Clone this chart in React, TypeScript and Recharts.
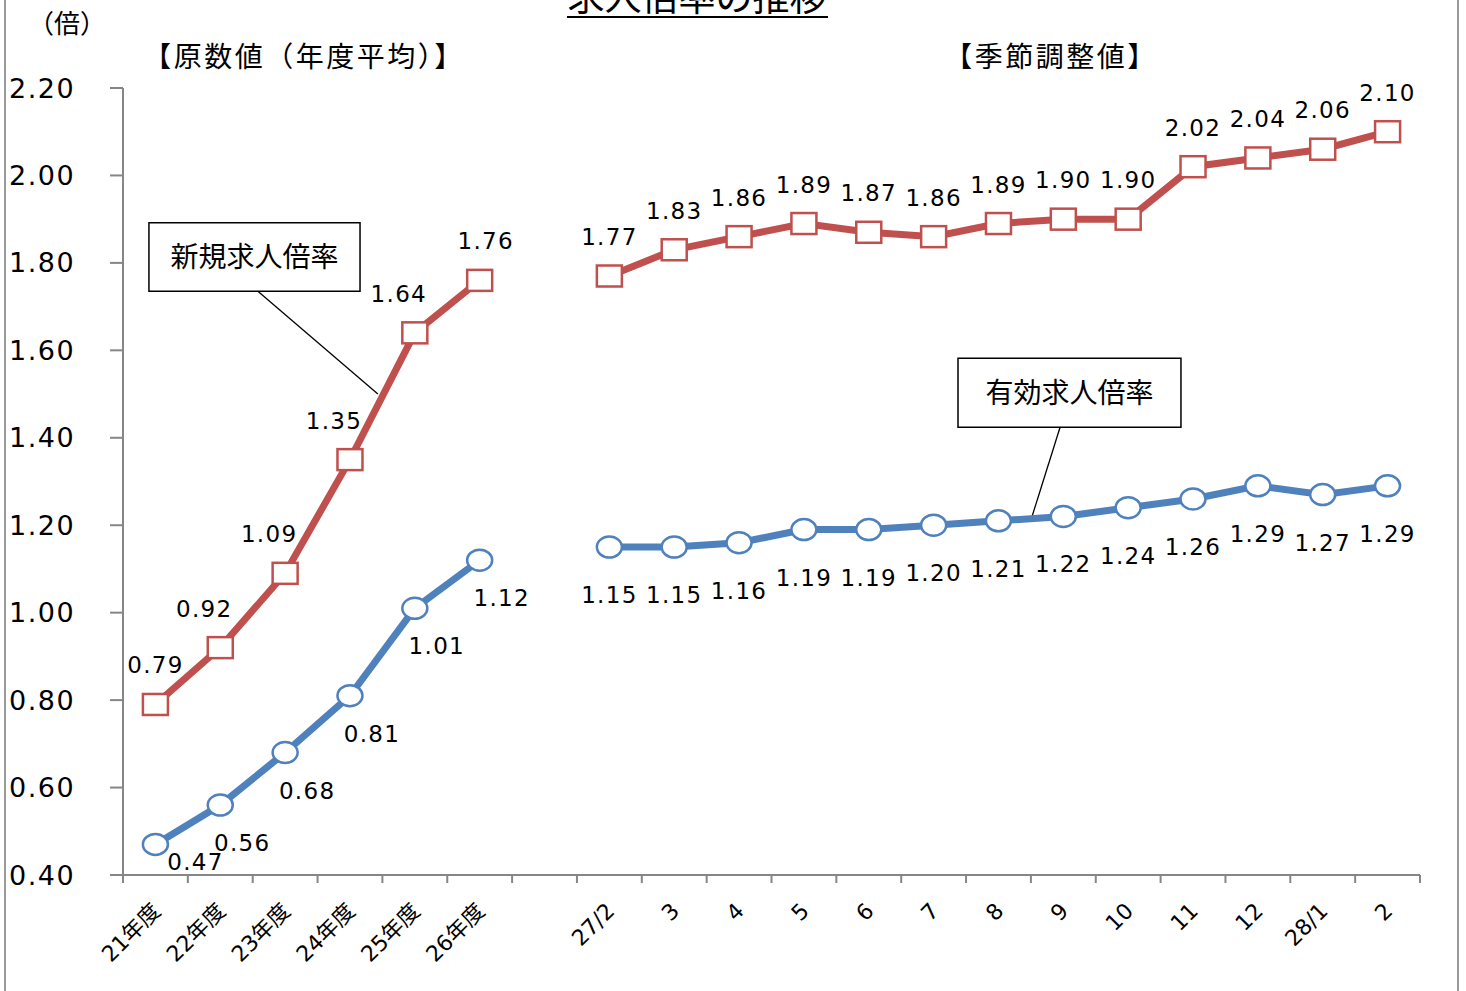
import React from 'react';
import {
  ComposedChart,
  Line,
  XAxis,
  YAxis,
  ReferenceArea,
  ReferenceLine,
  LabelList,
  Label,
} from 'recharts';

// ---- data ----
const categories = [
  '21年度', '22年度', '23年度', '24年度', '25年度', '26年度', '',
  '27/2', '3', '4', '5', '6', '7', '8', '9', '10', '11', '12', '28/1', '2',
];
const newOpeningsRatio: (number | null)[] = [
  0.79, 0.92, 1.09, 1.35, 1.64, 1.76, null,
  1.77, 1.83, 1.86, 1.89, 1.87, 1.86, 1.89, 1.90, 1.90, 2.02, 2.04, 2.06, 2.10,
];
const activeOpeningsRatio: (number | null)[] = [
  0.47, 0.56, 0.68, 0.81, 1.01, 1.12, null,
  1.15, 1.15, 1.16, 1.19, 1.19, 1.20, 1.21, 1.22, 1.24, 1.26, 1.29, 1.27, 1.29,
];
const yTicks = [0.4, 0.6, 0.8, 1.0, 1.2, 1.4, 1.6, 1.8, 2.0, 2.2];
const annualCount = 6;

const title = '求人倍率の推移';
const unitLabel = '（倍）';
const leftHeader = '【原数値（年度平均）】';
const rightHeader = '【季節調整値】';
const newLabel = '新規求人倍率';
const activeLabel = '有効求人倍率';

// annotation boxes / leader lines in data coordinates
const newBox = { x1: 0.4, x2: 3.655, y1: 1.735, y2: 1.892 };
const newLeader = [{ x: 2.08, y: 1.735 }, { x: 3.93, y: 1.5 }];
const activeBox = { x1: 12.876, x2: 16.314, y1: 1.424, y2: 1.582 };
const activeLeader = [{ x: 14.45, y: 1.424 }, { x: 14.02, y: 1.221 }];

const data = categories.map((c, i) => ({
  x: i + 0.5,
  cat: c,
  shinki: newOpeningsRatio[i],
  yuko: activeOpeningsRatio[i],
}));
const gridTicks = categories.map((_, i) => i).concat([categories.length]);
const labelTicks = categories.map((_, i) => i + 0.5);

const RED = '#C0504D';
const BLUE = '#4F81BD';
const AXIS = '#868686';
const NUM_FONT = "'DejaVu Sans', 'Noto Sans CJK JP', sans-serif";
const JP_FONT = "'Noto Sans CJK JP', sans-serif";

const EmptyTick = () => <g />;

const XLabelTick = (props: any) => {
  const { x, y, payload } = props;
  const idx = Math.floor(payload.value);
  const text = categories[idx];
  if (!text) return <g />;
  const ax = x + 1;
  const ay = y + 22;
  return (
    <text
      x={ax}
      y={ay}
      dy="0.35em"
      textAnchor="end"
      transform={`rotate(-45 ${ax} ${ay})`}
      fontSize={22}
      fontFamily={NUM_FONT}
      fill="#000"
    >
      {text}
    </text>
  );
};

const YTick = (props: any) => {
  const { y, payload } = props;
  return (
    <text
      x={9}
      y={y}
      dominantBaseline="central"
      textAnchor="start"
      fontSize={27}
      letterSpacing={1.5}
      fontFamily={NUM_FONT}
      fill="#000"
    >
      {Number(payload.value).toFixed(2)}
    </text>
  );
};

const SquareDot = (props: any) => {
  const { cx, cy, value, index } = props;
  if (value == null || cx == null || cy == null) return <g key={`s${index}`} />;
  return (
    <rect
      key={`s${index}`}
      x={cx - 12.5}
      y={cy - 10.5}
      width={25}
      height={21}
      fill="#fff"
      stroke={RED}
      strokeWidth={2.5}
    />
  );
};

const CircleDot = (props: any) => {
  const { cx, cy, value, index } = props;
  if (value == null || cx == null || cy == null) return <g key={`c${index}`} />;
  return (
    <ellipse
      key={`c${index}`}
      cx={cx}
      cy={cy}
      rx={12.5}
      ry={10.5}
      fill="#fff"
      stroke={BLUE}
      strokeWidth={2.5}
    />
  );
};

const labelText = (x: number, y: number, v: number, key: string) => (
  <text
    key={key}
    x={x}
    y={y}
    textAnchor="middle"
    dominantBaseline="central"
    fontSize={23}
    letterSpacing={1.3}
    fontFamily={NUM_FONT}
    fill="#000"
  >
    {v.toFixed(2)}
  </text>
);

const RedLabel = (p: any) => {
  const x = p.x ?? p.viewBox?.x;
  const y = p.y ?? p.viewBox?.y;
  const { value, index } = p;
  if (value == null || x == null || y == null) return null;
  let dx = 0;
  if (index < annualCount) {
    if (index === 0) dx = 0;
    else if (index === annualCount - 1) dx = 6;
    else dx = -16;
  }
  return labelText(x + dx, y - 39, Number(value), `r${index}`);
};

const BlueLabel = (p: any) => {
  const x = p.x ?? p.viewBox?.x;
  const y = p.y ?? p.viewBox?.y;
  const { value, index } = p;
  if (value == null || x == null || y == null) return null;
  const annual = index < annualCount;
  if (annual) {
    let ly = y + 38;
    let lx = x + 22;
    if (ly > 862) {
      ly = 862;
      lx = x + 40;
    }
    return labelText(lx, ly, Number(value), `b${index}`);
  }
  return labelText(x, y + 48, Number(value), `b${index}`);
};

export default function App() {
  return (
    <div style={{ position: 'absolute', left: 0, top: 0, width: 1466, height: 991, overflow: 'hidden', background: '#fff' }}>
      <div
        style={{
          position: 'absolute',
          left: 4,
          top: -5,
          width: 1451,
          height: 1010,
          borderLeft: '2px solid #9a9a9a',
          borderRight: '2px solid #9a9a9a',
        }}
      />
      <svg width={1466} height={991} style={{ position: 'absolute', left: 0, top: 0 }}>
        <text x={697} y={11} textAnchor="middle" fontSize={37} fontFamily={JP_FONT} fill="#000">
          {title}
        </text>
        <line x1={567} x2={828} y1={17} y2={17} stroke="#000" strokeWidth={2} />
        <text x={67} y={33} textAnchor="middle" fontSize={26} fontFamily={JP_FONT} fill="#000">
          {unitLabel}
        </text>
        <text x={304} y={67} textAnchor="middle" fontSize={28} letterSpacing={2.5} fontFamily={JP_FONT} fill="#000">
          {leftHeader}
        </text>
        <text x={1051} y={67} textAnchor="middle" fontSize={28} letterSpacing={2.5} fontFamily={JP_FONT} fill="#000">
          {rightHeader}
        </text>
      </svg>
      <div style={{ position: 'absolute', left: 0, top: 0 }}>
        <ComposedChart
          width={1466}
          height={991}
          data={data}
          margin={{ top: 88, right: 46, bottom: 0, left: 0 }}
        >
          <XAxis
            xAxisId="grid"
            type="number"
            dataKey="x"
            domain={[0, categories.length]}
            ticks={gridTicks}
            interval={0}
            height={10}
            tickSize={8}
            tick={<EmptyTick />}
            axisLine={{ stroke: AXIS, strokeWidth: 2 }}
            tickLine={{ stroke: AXIS, strokeWidth: 2 }}
            allowDataOverflow
          />
          <XAxis
            xAxisId="labels"
            type="number"
            dataKey="x"
            domain={[0, categories.length]}
            ticks={labelTicks}
            interval={0}
            height={106}
            tickSize={0}
            tickMargin={0}
            axisLine={false}
            tickLine={false}
            tick={<XLabelTick />}
            allowDataOverflow
          />
          <YAxis
            type="number"
            domain={[0.4, 2.2]}
            ticks={yTicks}
            interval={0}
            width={123}
            tickSize={13}
            axisLine={{ stroke: AXIS, strokeWidth: 2 }}
            tickLine={{ stroke: AXIS, strokeWidth: 2 }}
            tick={<YTick />}
            allowDataOverflow
          />
          <ReferenceLine
            xAxisId="grid"
            segment={newLeader}
            stroke="#000"
            strokeWidth={1.3}
            ifOverflow="visible"
          />
          <ReferenceLine
            xAxisId="grid"
            segment={activeLeader}
            stroke="#000"
            strokeWidth={1.3}
            ifOverflow="visible"
          />
          <ReferenceArea
            xAxisId="grid"
            x1={newBox.x1}
            x2={newBox.x2}
            y1={newBox.y1}
            y2={newBox.y2}
            fill="#fff"
            fillOpacity={1}
            stroke="#000"
            strokeWidth={1.5}
            ifOverflow="visible"
          >
            <Label value={newLabel} position="center" fontSize={28} fontFamily={JP_FONT} fill="#000" />
          </ReferenceArea>
          <ReferenceArea
            xAxisId="grid"
            x1={activeBox.x1}
            x2={activeBox.x2}
            y1={activeBox.y1}
            y2={activeBox.y2}
            fill="#fff"
            fillOpacity={1}
            stroke="#000"
            strokeWidth={1.5}
            ifOverflow="visible"
          >
            <Label value={activeLabel} position="center" fontSize={28} fontFamily={JP_FONT} fill="#000" />
          </ReferenceArea>
          <Line
            xAxisId="grid"
            type="linear"
            dataKey="shinki"
            stroke={RED}
            strokeWidth={7}
            dot={SquareDot}
            activeDot={false}
            connectNulls={false}
            isAnimationActive={false}
          >
            <LabelList dataKey="shinki" content={RedLabel} />
          </Line>
          <Line
            xAxisId="grid"
            type="linear"
            dataKey="yuko"
            stroke={BLUE}
            strokeWidth={7}
            dot={CircleDot}
            activeDot={false}
            connectNulls={false}
            isAnimationActive={false}
          >
            <LabelList dataKey="yuko" content={BlueLabel} />
          </Line>
        </ComposedChart>
      </div>
    </div>
  );
}
